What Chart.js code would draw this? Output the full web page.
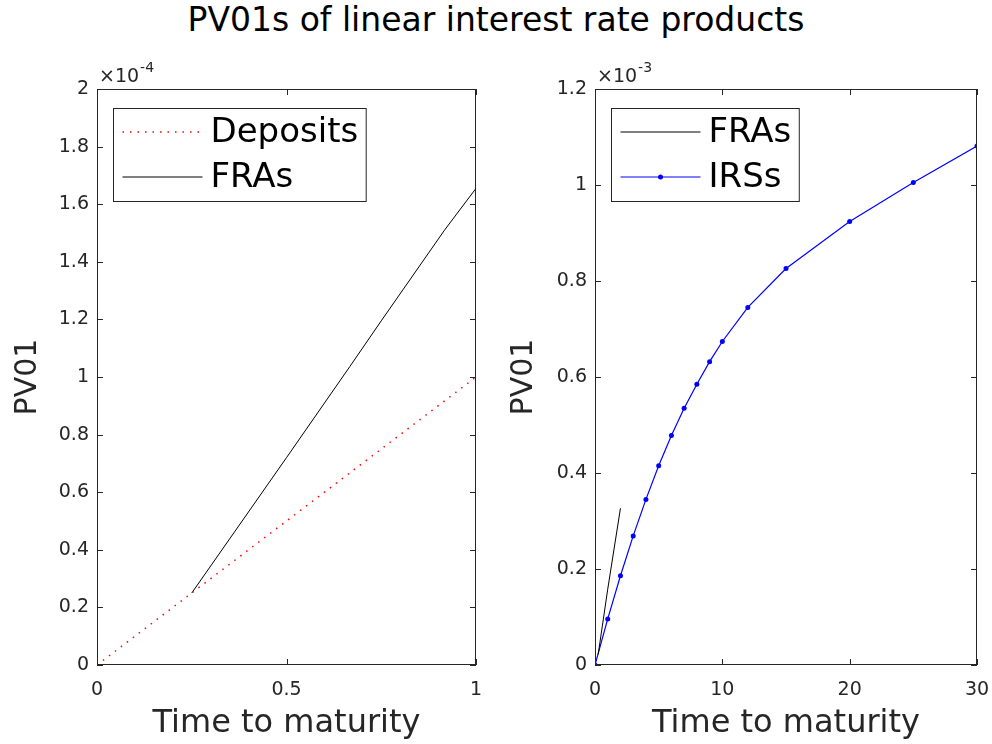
<!DOCTYPE html>
<html>
<head>
<meta charset="utf-8">
<script src="https://cdn.jsdelivr.net/npm/chart.js@4.4.1/dist/chart.umd.min.js"></script>
<style>
  body { margin: 0; background: #fff; }
  #wrap { position: relative; width: 992px; height: 744px; overflow: hidden; }
  #title {
    position: absolute; left: 0; top: 0; width: 992px; height: 48px; line-height: 48px;
    text-align: center; font: 33px "DejaVu Sans", sans-serif; color: #000;
  }
  canvas { position: absolute; top: 0; }
</style>
</head>
<body>
<div id="wrap">
  <div id="title">PV01s of linear interest rate products</div>
  <canvas id="left" width="496" height="744" style="left:0"></canvas>
  <canvas id="right" width="496" height="744" style="left:496px"></canvas>
</div>
<script>
// values
const depositTimes = [0, 0.25, 0.5, 0.75, 1];
const depositPv01 = [0, 0.25e-4, 0.5e-4, 0.75e-4, 1.0e-4];

const fraTimesShort = [0.25, 0.5, 0.667, 0.75, 0.917, 1];
const fraPv01Short = [0.25e-4, 0.72e-4, 1.036e-4, 1.195e-4, 1.51e-4, 1.655e-4];

const fraTimesLong = [0.25, 1, 2];
const fraPv01Long = [0.022e-3, 0.158e-3, 0.3265e-3];

const irsTimes = [0, 1, 2, 3, 4, 5, 6, 7, 8, 9, 10, 12, 15, 20, 25, 30];
const irsPv01 = [0, 0.096e-3, 0.186e-3, 0.269e-3, 0.345e-3, 0.415e-3, 0.478e-3, 0.535e-3,
    0.585e-3, 0.632e-3, 0.674e-3, 0.745e-3, 0.826e-3, 0.924e-3, 1.005e-3, 1.081e-3];

const leftXTicks = [0, 0.5, 1];
const rightXTicks = [0, 10, 20, 30];

const axisColor = '#262626';
const fontFamily = '"DejaVu Sans", sans-serif';

const points = (xs, ys) => xs.map((x, i) => ({ x, y: ys[i] }));

// MATLAB-like box, inward ticks, exponent label and legend inside the axes
const matlabAxes = {
    id: 'matlabAxes',
    afterDraw(chart, args, opts) {
        const { ctx, chartArea: a, scales } = chart;
        const tickLen = 6;
        ctx.save();
        ctx.strokeStyle = axisColor;
        ctx.lineWidth = 1;
        ctx.strokeRect(a.left + 0.5, a.top + 0.5, a.width - 1, a.height - 1);

        ctx.beginPath();
        scales.x.ticks.forEach((t) => {
            const px = Math.round(scales.x.getPixelForValue(t.value)) + 0.5;
            ctx.moveTo(px, a.bottom); ctx.lineTo(px, a.bottom - tickLen);
            ctx.moveTo(px, a.top); ctx.lineTo(px, a.top + tickLen);
        });
        scales.y.ticks.forEach((t) => {
            const py = Math.round(scales.y.getPixelForValue(t.value)) + 0.5;
            ctx.moveTo(a.left, py); ctx.lineTo(a.left + tickLen, py);
            ctx.moveTo(a.right, py); ctx.lineTo(a.right - tickLen, py);
        });
        ctx.stroke();

        // exponent
        ctx.fillStyle = axisColor;
        ctx.textBaseline = 'alphabetic';
        ctx.font = '19px ' + fontFamily;
        ctx.fillText('\u00d710', a.left + 2, a.top - 7);
        const w = ctx.measureText('\u00d710').width;
        ctx.font = '14px ' + fontFamily;
        ctx.fillText(opts.exponent, a.left + 3 + w, a.top - 17);

        // legend
        ctx.font = '34px ' + fontFamily;
        const sets = chart.data.datasets;
        const textW = Math.max(...sets.map((d) => ctx.measureText(d.label).width));
        const bx = a.left + 16.5, by = 108.5;
        const bw = 97 + textW + 8, bh = 93;
        ctx.fillStyle = '#fff';
        ctx.fillRect(bx, by, bw, bh);
        ctx.strokeStyle = axisColor;
        ctx.strokeRect(bx, by, bw, bh);
        sets.forEach((d, i) => {
            const ly = 132 + i * 45;
            ctx.strokeStyle = d.borderColor;
            ctx.lineWidth = d.borderWidth;
            ctx.setLineDash(d.borderDash || []);
            ctx.beginPath();
            ctx.moveTo(bx + 9, ly); ctx.lineTo(bx + 89, ly);
            ctx.stroke();
            ctx.setLineDash([]);
            if (d.pointRadius > 0) {
                ctx.fillStyle = d.pointBackgroundColor;
                ctx.beginPath();
                ctx.arc(bx + 49, ly, d.pointRadius, 0, Math.PI * 2);
                ctx.fill();
            }
            ctx.fillStyle = '#000';
            ctx.textBaseline = 'middle';
            ctx.fillText(d.label, bx + 97, ly + 1);
        });
        ctx.restore();
    },
};

function makeChart(canvasId, datasets, cfg) {
    return new Chart(document.getElementById(canvasId), {
        type: 'scatter',
        data: { datasets },
        plugins: [matlabAxes],
        options: {
            responsive: false,
            animation: false,
            layout: { padding: { left: 0, top: 89, right: cfg.padRight, bottom: 0 } },
            plugins: {
                legend: { display: false },
                tooltip: { enabled: false },
                matlabAxes: { exponent: cfg.exponent },
            },
            scales: {
                x: {
                    type: 'linear',
                    min: cfg.xMin,
                    max: cfg.xMax,
                    afterFit: (s) => {
                        s.height = 79;
                        s.paddingLeft = 0;
                        s.paddingRight = 0;
                    },
                    afterBuildTicks: (s) => { s.ticks = cfg.xTicks.map((v) => ({ value: v })); },
                    grid: { display: false, drawTicks: false },
                    border: { display: false },
                    ticks: {
                        padding: 14,
                        color: axisColor,
                        font: { family: fontFamily, size: 19 },
                        maxRotation: 0,
                        callback: (v) => String(v),
                    },
                    title: {
                        display: true,
                        text: 'Time to maturity',
                        color: axisColor,
                        font: { family: fontFamily, size: 32 },
                        padding: { top: 0, bottom: 1 },
                    },
                },
                y: {
                    min: 0,
                    max: cfg.yMax,
                    afterFit: (s) => {
                        s.width = cfg.yWidth;
                        s.paddingTop = 0;
                        s.paddingBottom = 0;
                    },
                    ticks: {
                        stepSize: cfg.yStep,
                        padding: 8,
                        color: axisColor,
                        font: { family: fontFamily, size: 19 },
                        callback: (v) => String(Number((v / cfg.yScale).toFixed(1))),
                    },
                    grid: { display: false, drawTicks: false },
                    border: { display: false },
                    title: {
                        display: true,
                        text: 'PV01',
                        color: axisColor,
                        font: { family: fontFamily, size: 30 },
                        padding: { top: 10, bottom: 0 },
                    },
                },
            },
        },
    });
}

makeChart('left', [
    {
        label: 'Deposits',
        data: points(depositTimes, depositPv01),
        showLine: true,
        borderColor: '#ff0000',
        borderWidth: 1.5,
        borderDash: [1.5, 6],
        pointRadius: 0,
    },
    {
        label: 'FRAs',
        data: points(fraTimesShort, fraPv01Short),
        showLine: true,
        borderColor: '#000000',
        borderWidth: 1,
        pointRadius: 0,
    },
], { padRight: 20, yWidth: 97, xMin: 0, xMax: 1, xTicks: leftXTicks, yMax: 2e-4, yStep: 2e-5, yScale: 1e-4, exponent: '-4' });

makeChart('right', [
    {
        label: 'FRAs',
        data: points(fraTimesLong, fraPv01Long),
        showLine: true,
        borderColor: '#000000',
        borderWidth: 1,
        pointRadius: 0,
    },
    {
        label: 'IRSs',
        data: points(irsTimes, irsPv01),
        showLine: true,
        borderColor: '#0000ff',
        borderWidth: 1.2,
        pointRadius: 2.5,
        pointBackgroundColor: '#0000ff',
        pointBorderColor: '#0000ff',
        pointBorderWidth: 0,
    },
], { padRight: 15, yWidth: 99, xMin: 0, xMax: 30, xTicks: rightXTicks, yMax: 1.2e-3, yStep: 2e-4, yScale: 1e-3, exponent: '-3' });
</script>
</body>
</html>
